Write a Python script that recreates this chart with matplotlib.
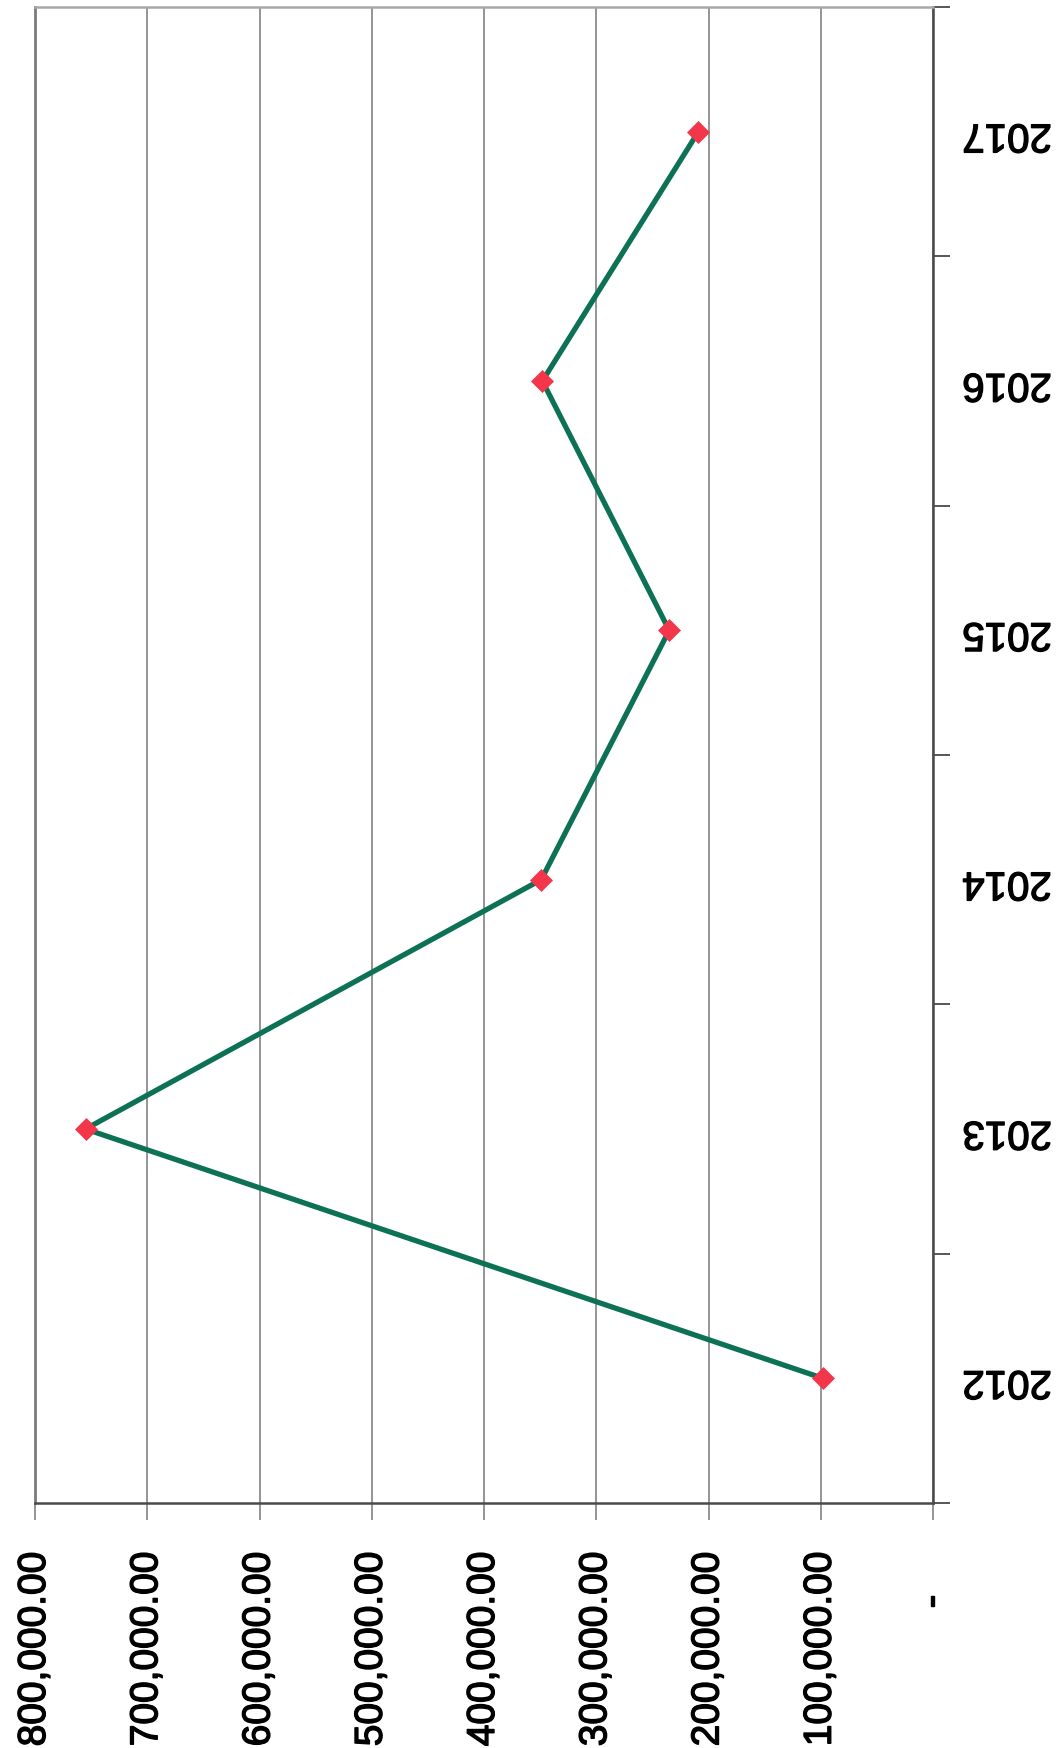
import matplotlib.pyplot as plt
import matplotlib.patheffects as pe
from matplotlib.ticker import FixedLocator, FuncFormatter

plt.rcParams['font.family'] = ['Liberation Sans', 'DejaVu Sans']

# values
years = ['2012', '2013', '2014', '2015', '2016', '2017']
amounts = [98000, 755000, 349000, 235000, 348000, 209000]
value_ticks = [100000, 200000, 300000, 400000, 500000, 600000, 700000, 800000]

line_color = '#0c7155'
marker_color = '#f4364a'
axis_color = '#4a4a4a'
grid_color = '#8c8c8c'

fig = plt.figure(figsize=(10.63, 17.48), dpi=100)
ax = fig.add_axes([35 / 1063, 1 - 1503 / 1748, (933 - 35) / 1063, (1503 - 7) / 1748])

pos = list(range(len(years)))
ax.plot(amounts, pos, color=line_color, lw=3.8, zorder=3,
        marker='D', ms=11.5, mfc=marker_color, mec=marker_color, mew=0.5)

# value axis runs right-to-left (page is rotated)
ax.set_xlim(800000, 0)
ax.set_ylim(-0.5, len(years) - 0.5)

ax.xaxis.set_major_locator(FixedLocator(value_ticks))
ax.xaxis.set_major_formatter(FuncFormatter(lambda v, p: f'{v:,.2f}'))
ax.xaxis.set_minor_locator(FixedLocator([0]))
ax.xaxis.set_minor_formatter(FuncFormatter(lambda v, p: '-'))
ax.tick_params(axis='x', which='major', direction='out', length=12, width=1.3,
               color=grid_color, pad=23, labelsize=28, labelrotation=90)
ax.tick_params(axis='x', which='minor', direction='out', length=12, width=1.3,
               color=grid_color, pad=54, labelsize=28, labelrotation=90)
ax.grid(axis='x', which='both', color=grid_color, lw=1.3)

# category axis on the right, labels upside down
ax.yaxis.tick_right()
ax.set_yticks(pos)
ax.set_yticklabels(years)
ax.yaxis.set_minor_locator(FixedLocator([p - 0.5 for p in pos] + [len(years) - 0.5]))
ax.tick_params(axis='y', which='major', length=0, pad=21, labelsize=29, labelrotation=180)
ax.tick_params(axis='y', which='minor', direction='out', length=12, width=1.3, color=axis_color)

# scanned text looks a bit heavier than plain regular weight
heavy = [pe.withStroke(linewidth=1.0, foreground='black')]
for lab in ax.get_xticklabels(which='both') + ax.get_yticklabels():
    lab.set_path_effects(heavy)

for side in ['right', 'bottom']:
    ax.spines[side].set_color(axis_color)
    ax.spines[side].set_linewidth(1.8)
ax.spines['left'].set_color('#7a7a7a')
ax.spines['left'].set_linewidth(2.0)
ax.spines['top'].set_color('#a8a8a8')
ax.spines['top'].set_linewidth(1.8)

fig.savefig('out.png', dpi=100)
